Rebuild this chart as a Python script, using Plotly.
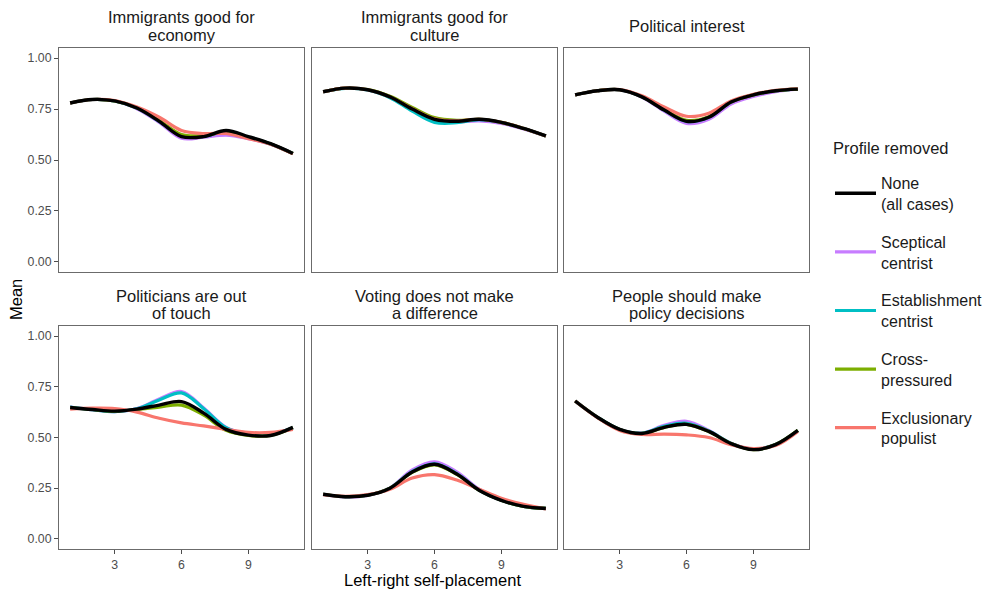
import plotly.graph_objects as go

x_vals = list(range(1, 12))

panel_titles = [
    ["Immigrants good for", "economy"],
    ["Immigrants good for", "culture"],
    ["Political interest"],
    ["Politicians are out", "of touch"],
    ["Voting does not make", "a difference"],
    ["People should make", "policy decisions"],
]

series_names = ["None<br>(all cases)", "Sceptical<br>centrist", "Establishment<br>centrist",
                "Cross-<br>pressured", "Exclusionary<br>populist"]
legend_title = "Profile removed"

# Panel 1: Immigrants good for economy
p1_none = [0.780, 0.797, 0.790, 0.755, 0.690, 0.615, 0.615, 0.645, 0.615, 0.580, 0.532]
p1_scep = [0.780, 0.797, 0.790, 0.752, 0.685, 0.607, 0.612, 0.622, 0.605, 0.578, 0.532]
p1_estb = [0.780, 0.797, 0.790, 0.755, 0.690, 0.618, 0.616, 0.640, 0.612, 0.579, 0.532]
p1_cros = [0.780, 0.797, 0.790, 0.757, 0.695, 0.625, 0.620, 0.635, 0.610, 0.579, 0.532]
p1_excl = [0.780, 0.797, 0.792, 0.760, 0.710, 0.645, 0.630, 0.630, 0.605, 0.577, 0.530]

# Panel 2: Immigrants good for culture
p2_none = [0.835, 0.853, 0.845, 0.810, 0.750, 0.700, 0.690, 0.700, 0.685, 0.655, 0.618]
p2_scep = [0.835, 0.853, 0.845, 0.810, 0.748, 0.698, 0.688, 0.692, 0.680, 0.653, 0.618]
p2_estb = [0.835, 0.852, 0.844, 0.806, 0.740, 0.685, 0.683, 0.698, 0.684, 0.655, 0.618]
p2_cros = [0.835, 0.853, 0.846, 0.813, 0.758, 0.708, 0.695, 0.700, 0.685, 0.655, 0.618]
p2_excl = [0.835, 0.853, 0.845, 0.810, 0.752, 0.702, 0.692, 0.700, 0.685, 0.655, 0.618]

# Panel 3: Political interest
p3_none = [0.820, 0.840, 0.845, 0.810, 0.745, 0.690, 0.710, 0.785, 0.820, 0.840, 0.848]
p3_scep = [0.820, 0.840, 0.845, 0.808, 0.740, 0.680, 0.700, 0.775, 0.812, 0.836, 0.848]
p3_estb = [0.820, 0.840, 0.845, 0.810, 0.745, 0.690, 0.710, 0.785, 0.820, 0.840, 0.848]
p3_cros = [0.820, 0.840, 0.845, 0.810, 0.747, 0.695, 0.713, 0.785, 0.820, 0.840, 0.848]
p3_excl = [0.820, 0.840, 0.846, 0.815, 0.760, 0.715, 0.730, 0.790, 0.822, 0.842, 0.850]

# Panel 4: Politicians are out of touch
p4_none = [0.648, 0.638, 0.630, 0.640, 0.660, 0.677, 0.620, 0.540, 0.512, 0.510, 0.550]
p4_scep = [0.650, 0.637, 0.628, 0.643, 0.690, 0.727, 0.645, 0.550, 0.518, 0.515, 0.548]
p4_estb = [0.650, 0.637, 0.628, 0.642, 0.685, 0.720, 0.642, 0.548, 0.516, 0.514, 0.548]
p4_cros = [0.648, 0.638, 0.630, 0.638, 0.650, 0.660, 0.610, 0.535, 0.510, 0.510, 0.548]
p4_excl = [0.640, 0.645, 0.643, 0.625, 0.595, 0.572, 0.557, 0.540, 0.525, 0.525, 0.540]

# Panel 5: Voting does not make a difference
p5_none = [0.220, 0.208, 0.215, 0.250, 0.330, 0.368, 0.320, 0.240, 0.190, 0.160, 0.150]
p5_scep = [0.220, 0.206, 0.214, 0.252, 0.340, 0.380, 0.330, 0.245, 0.192, 0.160, 0.150]
p5_estb = [0.220, 0.208, 0.215, 0.250, 0.332, 0.370, 0.322, 0.241, 0.190, 0.160, 0.150]
p5_cros = [0.220, 0.208, 0.215, 0.250, 0.328, 0.365, 0.318, 0.240, 0.190, 0.160, 0.150]
p5_excl = [0.218, 0.210, 0.218, 0.245, 0.300, 0.317, 0.290, 0.245, 0.200, 0.170, 0.148]

# Panel 6: People should make policy decisions
p6_none = [0.680, 0.600, 0.540, 0.520, 0.550, 0.565, 0.530, 0.470, 0.440, 0.465, 0.535]
p6_scep = [0.680, 0.600, 0.540, 0.522, 0.560, 0.580, 0.535, 0.472, 0.443, 0.465, 0.533]
p6_estb = [0.680, 0.600, 0.540, 0.521, 0.555, 0.570, 0.532, 0.471, 0.441, 0.465, 0.534]
p6_cros = [0.680, 0.600, 0.540, 0.520, 0.550, 0.565, 0.530, 0.470, 0.440, 0.465, 0.535]
p6_excl = [0.680, 0.598, 0.535, 0.515, 0.517, 0.513, 0.500, 0.465, 0.445, 0.460, 0.530]

panels = [
    [p1_none, p1_scep, p1_estb, p1_cros, p1_excl],
    [p2_none, p2_scep, p2_estb, p2_cros, p2_excl],
    [p3_none, p3_scep, p3_estb, p3_cros, p3_excl],
    [p4_none, p4_scep, p4_estb, p4_cros, p4_excl],
    [p5_none, p5_scep, p5_estb, p5_cros, p5_excl],
    [p6_none, p6_scep, p6_estb, p6_cros, p6_excl],
]

colors = ["#000000", "#C77CFF", "#00BFC4", "#7CAE00", "#F8766D"]
draw_order = [1, 2, 3, 4, 0]

x_ticks = [3, 6, 9]
y_ticks = [0.0, 0.25, 0.5, 0.75, 1.0]
y_tick_labels = ["0.00", "0.25", "0.50", "0.75", "1.00"]

# the page has an 8px body margin: the figure starts at (8, 8) on the page
OFF = 8
W, H = 992 - OFF, 589 - OFF


def px(xp):
    return (xp - OFF) / W


def py(yp):
    return 1 - (yp - OFF) / H


cols_px = [(59, 304), (312, 557), (564, 809)]
rows_px = [(48, 272), (326, 549)]
title_lines_y = [[17, 35], [296, 313]]
title_single_y = [26, 304]

fig = go.Figure()
FONT = "Liberation Sans, Arial, sans-serif"
TXT = 16.5
TICK = 12.3

for pi in range(6):
    r, c = divmod(pi, 3)
    idx = pi + 1
    xa = "x" if idx == 1 else f"x{idx}"
    ya = "y" if idx == 1 else f"y{idx}"
    for si in draw_order:
        fig.add_trace(go.Scatter(
            x=x_vals, y=panels[pi][si], mode="lines",
            line=dict(color=colors[si], width=3.4 if si == 0 else 3.2, shape="spline", smoothing=1.0),
            name=series_names[si], legendgroup=f"g{si}", legendrank=si + 1,
            showlegend=(pi == 0), xaxis=xa, yaxis=ya, hoverinfo="skip",
        ))
    x0, x1 = cols_px[c]
    y0, y1 = rows_px[r]
    xkey = "xaxis" if idx == 1 else f"xaxis{idx}"
    ykey = "yaxis" if idx == 1 else f"yaxis{idx}"
    fig.layout[xkey] = dict(
        domain=[px(x0), px(x1)], range=[0.5, 11.5], anchor=ya,
        showgrid=False, zeroline=False, showline=True, mirror=True,
        linecolor="#6b6b6b", linewidth=1,
        tickvals=x_ticks, showticklabels=(r == 1),
        ticks="outside" if r == 1 else "", ticklen=4, tickcolor="#4d4d4d",
        tickfont=dict(size=TICK, color="#4d4d4d", family=FONT),
    )
    fig.layout[ykey] = dict(
        domain=[py(y1), py(y0)], range=[-0.05, 1.05], anchor=xa,
        showgrid=False, zeroline=False, showline=True, mirror=True,
        linecolor="#6b6b6b", linewidth=1,
        tickvals=y_ticks, ticktext=y_tick_labels, showticklabels=(c == 0),
        ticks="outside" if c == 0 else "", ticklen=4, tickcolor="#4d4d4d",
        tickfont=dict(size=TICK, color="#4d4d4d", family=FONT),
    )
    lines = panel_titles[pi]
    ys = title_lines_y[r] if len(lines) == 2 else [title_single_y[r]]
    for line_text, yl in zip(lines, ys):
        fig.add_annotation(
            text=line_text, x=px((x0 + x1) / 2), y=py(yl),
            xref="paper", yref="paper", xanchor="center", yanchor="middle",
            showarrow=False, font=dict(size=TXT, color="#1a1a1a", family=FONT),
        )

fig.add_annotation(text="Mean", x=px(16), y=py(300), xref="paper", yref="paper",
                   textangle=-90, showarrow=False, xanchor="center", yanchor="middle",
                   font=dict(size=TXT, color="#000", family=FONT))
fig.add_annotation(text="Left-right self-placement", x=px(432), y=py(580),
                   xref="paper", yref="paper", showarrow=False, xanchor="center", yanchor="middle",
                   font=dict(size=TXT, color="#000", family=FONT))
fig.add_annotation(text=legend_title, x=px(831), y=py(148), xref="paper", yref="paper",
                   showarrow=False, xanchor="left", yanchor="middle",
                   font=dict(size=TXT, color="#1a1a1a", family=FONT))

fig.update_layout(
    width=W, height=H, margin=dict(l=0, r=0, t=0, b=0),
    paper_bgcolor="white", plot_bgcolor="white",
    font=dict(family=FONT),
    legend=dict(
        x=px(830), y=py(166), xanchor="left", yanchor="top",
        font=dict(size=16, color="#1a1a1a", family=FONT),
        tracegroupgap=14, traceorder="grouped", itemwidth=41,
        bgcolor="rgba(0,0,0,0)",
    ),
)

fig.write_html("out.html")
